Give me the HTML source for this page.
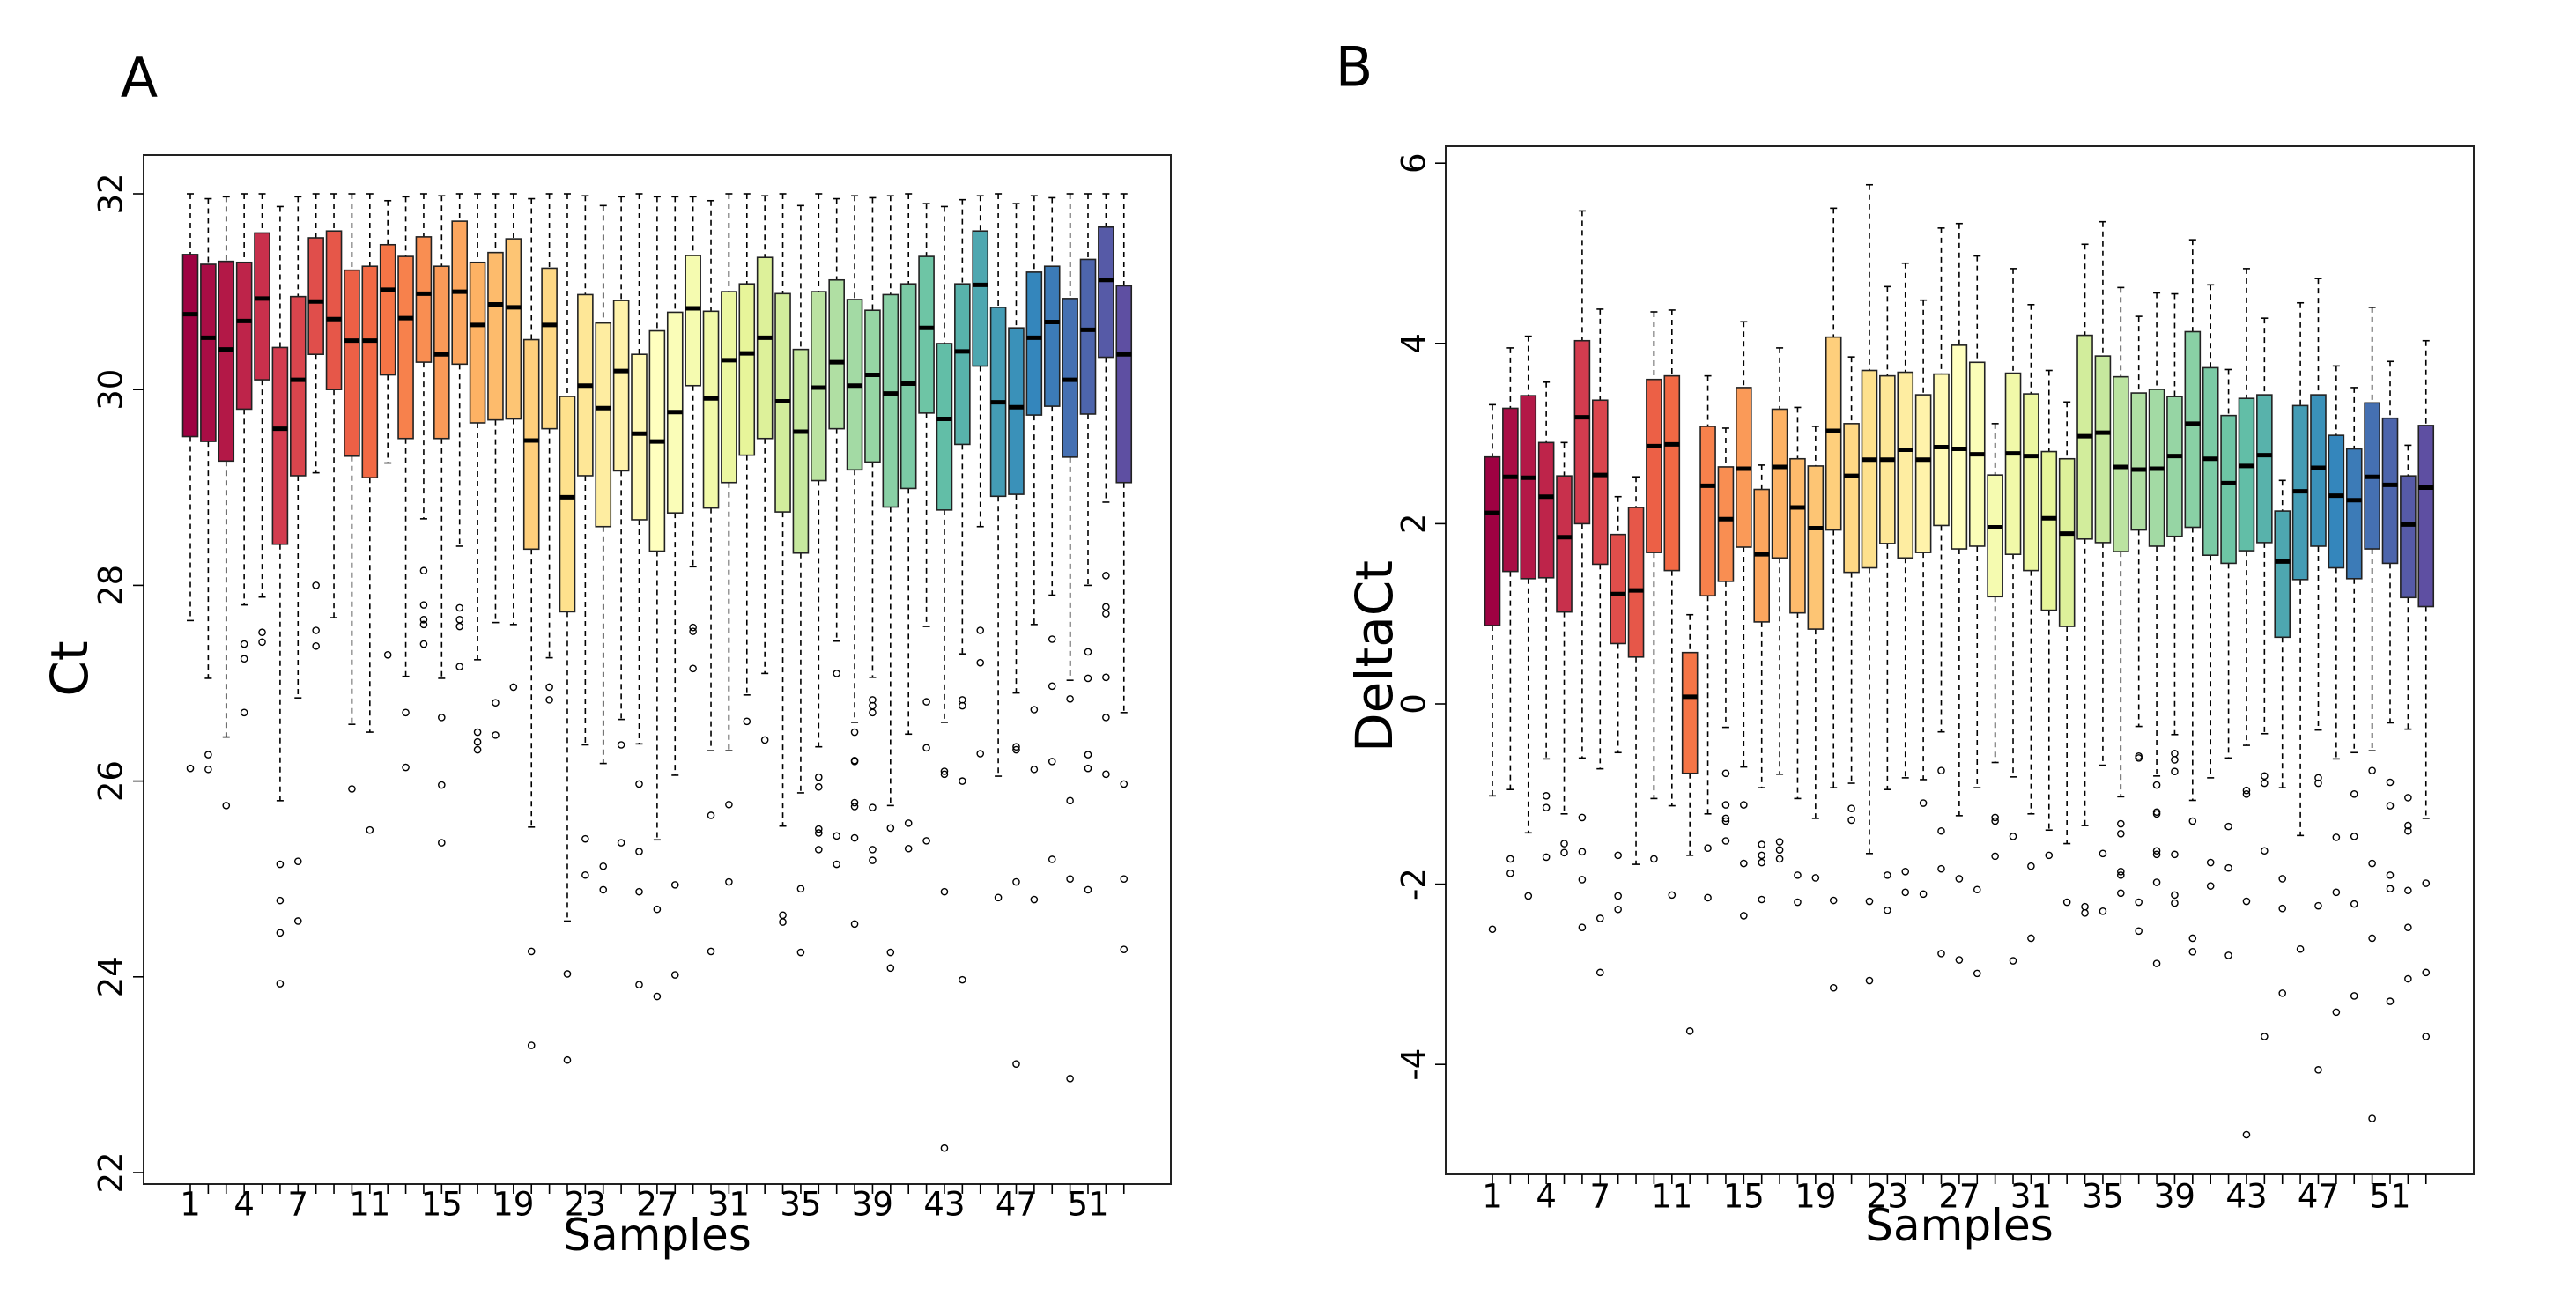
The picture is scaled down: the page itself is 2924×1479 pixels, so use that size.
<!DOCTYPE html>
<html><head><meta charset="utf-8"><style>
html,body{margin:0;padding:0;background:#fff;}
svg{display:block;font-family:"DejaVu Sans","Liberation Sans",sans-serif;}
</style></head><body>
<svg id="chart" width="2924" height="1479" viewBox="0 0 2924 1479" xmlns="http://www.w3.org/2000/svg"></svg>
<script>
// Panel A (Ct): [lowerWhisker, q1, median, q3, upperWhisker]
const ctStats = [
[27.64,29.52,30.77,31.38,32],[27.05,29.47,30.53,31.28,31.95],[26.45,29.27,30.41,31.31,31.97],[27.8,29.8,30.7,31.3,32],
[27.88,30.1,30.93,31.6,32],[25.8,28.42,29.6,30.43,31.87],[26.85,29.12,30.1,30.95,31.97],[29.15,30.36,30.9,31.55,32],
[27.67,30.0,30.72,31.62,32],[26.58,29.32,30.5,31.22,32],[26.5,29.1,30.5,31.26,32],[29.25,30.15,31.02,31.48,31.93],
[27.07,29.5,30.73,31.36,31.97],[28.68,30.28,30.98,31.56,32],[27.05,29.5,30.36,31.26,31.98],[28.4,30.26,31.0,31.72,32],
[27.24,29.66,30.66,31.3,32],[27.62,29.69,30.87,31.4,32],[27.6,29.7,30.84,31.54,32],[25.53,28.37,29.48,30.51,31.95],
[27.26,29.6,30.66,31.24,32],[24.57,27.73,28.9,29.93,32],[26.37,29.12,30.04,30.97,31.98],[26.18,28.6,29.81,30.68,31.88],
[26.63,29.17,30.19,30.91,31.97],[26.38,28.67,29.55,30.36,32],[25.4,28.35,29.47,30.6,31.97],[26.06,28.74,29.77,30.79,31.97],
[28.19,30.04,30.83,31.37,31.97],[26.31,28.79,29.91,30.8,31.93],[26.31,29.05,30.3,31.0,32],[26.88,29.33,30.37,31.08,32],
[27.1,29.5,30.53,31.35,31.98],[25.54,28.75,29.88,30.98,32],[25.88,28.33,29.57,30.41,31.88],[26.35,29.07,30.02,31.0,32],
[27.43,29.6,30.28,31.12,31.95],[26.6,29.18,30.04,30.92,31.98],[27.06,29.26,30.15,30.81,31.96],[25.75,28.8,29.96,30.97,31.98],
[26.48,28.99,30.06,31.08,32],[27.58,29.76,30.63,31.36,31.9],[26.6,28.77,29.7,30.47,31.87],[27.3,29.44,30.39,31.08,31.94],
[28.6,30.24,31.07,31.62,31.98],[26.05,28.91,29.87,30.84,32],[26.9,28.93,29.82,30.63,31.9],[27.6,29.74,30.53,31.2,31.98],
[27.9,29.83,30.69,31.26,31.96],[27.03,29.31,30.1,30.93,32],[28.0,29.75,30.61,31.33,32],[28.85,30.33,31.12,31.66,32],
[26.7,29.05,30.36,31.06,32]];
const ctOutliers = [
[26.13],[26.27,26.12],[25.75],[27.4,27.25,26.7],[27.52,27.42],[25.15,24.78,24.45,23.93],[25.18,24.57],[28.0,27.54,27.38],
[],[25.92],[25.5],[27.29],[26.7,26.14],[28.15,27.8,27.65,27.6,27.4],[26.65,25.96,25.37],[27.77,27.65,27.58,27.17],
[26.5,26.4,26.32],[26.8,26.47],[26.96],[24.26,23.3],[26.96,26.83],[24.03,23.15],[25.41,25.04],[25.13,24.89],
[26.37,25.37],[25.97,25.28,24.87,23.92],[24.69,23.8],[24.94,24.02],[27.57,27.53,27.15],[25.65,24.26],[25.76,24.97],[26.61],
[26.42],[24.63,24.56],[24.9,24.25],[26.04,25.94,25.51,25.47,25.3],[27.1,25.44,25.15],[26.5,26.21,26.2,25.78,25.74,25.42,24.54],
[26.83,26.77,26.7,25.73,25.3,25.19],[25.52,24.25,24.09],[25.57,25.31],[26.81,26.34,25.39],[26.1,26.07,24.87,22.25],
[26.83,26.77,26.0,23.97],[27.54,27.21,26.28],[24.81],[26.35,26.32,24.97,23.11],[26.73,26.12,24.79],[27.45,26.97,26.2,25.2],
[26.84,25.8,25.0,22.96],[27.32,27.05,26.27,26.13,24.89],[28.1,27.78,27.71,27.06,26.65,26.07],[25.97,25.0,24.28]];
// Panel B (DeltaCt)
const dctStats = [
[-1.02,0.87,2.12,2.74,3.32],[-0.95,1.47,2.52,3.28,3.95],[-1.43,1.39,2.51,3.42,4.08],[-0.61,1.4,2.3,2.9,3.57],
[-1.22,1.02,1.85,2.53,2.9],[-0.6,2.0,3.18,4.03,5.47],[-0.72,1.55,2.54,3.37,4.38],[-0.54,0.67,1.22,1.88,2.3],
[-1.78,0.52,1.26,2.18,2.52],[-1.05,1.68,2.86,3.6,4.35],[-1.13,1.48,2.88,3.64,4.37],[-1.68,-0.77,0.08,0.57,0.99],
[-1.22,1.2,2.42,3.08,3.64],[-0.26,1.36,2.05,2.63,3.06],[-0.7,1.74,2.61,3.51,4.24],[-0.93,0.91,1.66,2.38,2.65],
[-0.78,1.62,2.63,3.27,3.95],[-1.05,1.01,2.18,2.72,3.29],[-1.27,0.83,1.95,2.64,3.08],[-0.93,1.93,3.03,4.07,5.5],
[-0.88,1.46,2.53,3.11,3.85],[-1.66,1.51,2.71,3.7,5.76],[-0.95,1.78,2.71,3.64,4.63],[-0.82,1.62,2.82,3.68,4.89],
[-0.84,1.68,2.71,3.43,4.48],[-0.31,1.98,2.85,3.66,5.28],[-1.24,1.72,2.83,3.98,5.33],[-0.93,1.75,2.77,3.79,4.97],
[-0.65,1.19,1.96,2.54,3.11],[-0.81,1.66,2.78,3.67,4.83],[-1.22,1.48,2.75,3.44,4.43],[-1.4,1.04,2.06,2.8,3.7],
[-1.55,0.86,1.89,2.72,3.35],[-1.35,1.83,2.97,4.09,5.1],[-0.68,1.79,3.01,3.86,5.35],[-1.03,1.69,2.63,3.63,4.62],
[-0.25,1.93,2.6,3.45,4.3],[-0.8,1.75,2.61,3.49,4.56],[-0.34,1.86,2.75,3.41,4.55],[-1.07,1.96,3.11,4.13,5.15],
[-0.82,1.65,2.72,3.73,4.65],[-0.6,1.56,2.45,3.2,3.71],[-0.46,1.7,2.64,3.39,4.83],[-0.33,1.79,2.76,3.43,4.28],
[-0.93,0.74,1.58,2.14,2.48],[-1.46,1.38,2.36,3.31,4.45],[-0.29,1.75,2.62,3.43,4.72],[-0.61,1.51,2.31,2.98,3.75],
[-0.54,1.39,2.26,2.83,3.51],[-0.52,1.72,2.52,3.34,4.4],[-0.21,1.56,2.43,3.17,3.8],[-0.28,1.18,1.99,2.53,2.87],
[-1.27,1.08,2.4,3.09,4.03]];
const dctOutliers = [
[-2.5],[-1.72,-1.88],[-2.13],[-1.02,-1.15,-1.7],[-1.55,-1.65],[-1.26,-1.64,-1.95,-2.48],[-2.38,-2.98],[-1.68,-2.13,-2.28],
[],[-1.72],[-2.12],[-3.63],[-1.6,-2.15],[-0.77,-1.12,-1.27,-1.3,-1.52],[-1.12,-1.77,-2.35],[-1.56,-1.68,-1.76,-2.17],
[-1.53,-1.62,-1.72],[-1.9,-2.2],[-1.93],[-2.18,-3.15],[-1.16,-1.29],[-2.19,-3.07],[-1.9,-2.29],[-1.86,-2.09],
[-1.1,-2.11],[-0.74,-1.41,-1.83,-2.77],[-1.94,-2.84],[-2.06,-2.99],[-1.26,-1.3,-1.69],[-1.47,-2.85],[-1.8,-2.6],[-1.68],
[-2.2],[-2.25,-2.32],[-1.66,-2.3],[-1.33,-1.44,-1.86,-1.9,-2.1],[-0.58,-0.6,-2.2,-2.52],[-0.9,-1.2,-1.22,-1.63,-1.67,-1.98,-2.88],
[-0.55,-0.62,-0.75,-1.67,-2.12,-2.21],[-1.3,-2.6,-2.75],[-1.76,-2.02],[-1.36,-1.82,-2.79],[-0.96,-1.0,-2.19,-4.78],
[-0.8,-0.88,-1.63,-3.69],[-1.94,-2.27,-3.21],[-2.72],[-0.82,-0.88,-2.24,-4.06],[-1.48,-2.09,-3.42],[-1.0,-1.47,-2.22,-3.24],
[-0.74,-1.77,-2.6,-4.6],[-0.87,-1.13,-1.9,-2.05,-3.3],[-1.04,-1.35,-1.41,-2.07,-2.48,-3.05],[-1.99,-2.98,-3.69]];
const xTickLabels = [1,4,7,11,15,19,23,27,31,35,39,43,47,51];
const ctYTicks = [22,24,26,28,30,32];
const dctYTicks = [-4,-2,0,2,4,6];

const NS="http://www.w3.org/2000/svg";
const svg=document.getElementById('chart');
function mk(tag,attrs,parent){const e=document.createElementNS(NS,tag);for(const k in attrs)e.setAttribute(k,attrs[k]);(parent||svg).appendChild(e);return e;}
const spectral=["#9E0142","#D53E4F","#F46D43","#FDAE61","#FEE08B","#FFFFBF","#E6F598","#ABDDA4","#66C2A5","#3288BD","#5E4FA2"];
function hex(c){return [1,3,5].map(i=>parseInt(c.substr(i,2),16));}
function color(i,n){const t=i/(n-1)*(spectral.length-1);const a=Math.floor(Math.min(t,spectral.length-2));const f=t-a;const c1=hex(spectral[a]),c2=hex(spectral[a+1]);return 'rgb('+c1.map((v,k)=>Math.round(v+(c2[k]-v)*f)).join(',')+')';}

function panel(cfg){
  const g=mk('g',{});
  
  
  const y=v=>cfg.y0-(v-cfg.v0)*cfg.k;
  const x=i=>cfg.x1+i*cfg.dx;
  const fr=mk('rect',{x:cfg.L,y:cfg.T,width:cfg.R-cfg.L,height:cfg.B-cfg.T,fill:'none',stroke:'#222','stroke-width':2},g);
  
  
  const n=cfg.stats.length;
  cfg.stats.forEach((s,i)=>{
    const bg=mk('g',{},g);
    
    
    const cx=x(i),hw=8.5,cw=4;
    mk('line',{x1:cx,x2:cx,y1:y(s[4]),y2:y(s[3]),stroke:'#000','stroke-width':1.6,'stroke-dasharray':'6,5'},bg);
    mk('line',{x1:cx,x2:cx,y1:y(s[1]),y2:y(s[0]),stroke:'#000','stroke-width':1.6,'stroke-dasharray':'6,5'},bg);
    mk('line',{x1:cx-cw,x2:cx+cw,y1:y(s[4]),y2:y(s[4]),stroke:'#000','stroke-width':1.6},bg);
    mk('line',{x1:cx-cw,x2:cx+cw,y1:y(s[0]),y2:y(s[0]),stroke:'#000','stroke-width':1.6},bg);
    mk('rect',{x:cx-hw,y:y(s[3]),width:2*hw,height:y(s[1])-y(s[3]),fill:color(i,n),stroke:'#222','stroke-width':1.6},bg);
    mk('line',{x1:cx-hw,x2:cx+hw,y1:y(s[2]),y2:y(s[2]),stroke:'#000','stroke-width':5},bg);
    cfg.out[i].forEach(o=>{
      const c=mk('circle',{cx:cx,cy:y(o),r:3.6,fill:'none',stroke:'#000','stroke-width':1.4},bg);
      
      
    });
    mk('line',{x1:cx,x2:cx,y1:cfg.B,y2:cfg.B+11,stroke:'#000','stroke-width':1.6},g);
  });
  xTickLabels.forEach(l=>{
    const t=mk('text',{x:x(l-1),y:cfg.xtY,'font-size':37,'text-anchor':'middle','dominant-baseline':'central',fill:'#000'},g);
    t.textContent=l;
    
    
  });
  cfg.yticks.forEach(v=>{
    mk('line',{x1:cfg.L,x2:cfg.L-12,y1:y(v),y2:y(v),stroke:'#000','stroke-width':1.6},g);
    const t=mk('text',{x:cfg.ytX,y:y(v),'font-size':37,'text-anchor':'middle','dominant-baseline':'central',fill:'#000',transform:'rotate(-90 '+cfg.ytX+' '+y(v)+')'},g);
    t.textContent=v;
    
    
  });
  const xt=mk('text',{x:cfg.xlX,y:cfg.xlY,'font-size':50,'text-anchor':'middle','dominant-baseline':'central',fill:'#000'},g);
  xt.textContent='Samples';
  
  
  const yt=mk('text',{x:cfg.ylX,y:cfg.ylY,'font-size':58,'text-anchor':'middle','dominant-baseline':'central',fill:'#000',transform:'rotate(-90 '+cfg.ylX+' '+cfg.ylY+')'},g);
  yt.textContent=cfg.ylab;
  
  
  const pl=mk('text',{x:cfg.pX,y:cfg.pY,'font-size':62,'text-anchor':'middle','dominant-baseline':'central',fill:'#000'},g);
  pl.textContent=cfg.panel;
  
  
}
panel({name:'panel-a-ct',stats:ctStats,out:ctOutliers,yticks:ctYTicks,L:163,R:1329,T:176,B:1344,y0:1331,v0:22,k:111.1,x1:216,dx:20.38,xtY:1367,ytX:126,xlX:746,xlY:1402,ylX:79,ylY:759,ylab:'Ct',pX:158,pY:88,panel:'A'});
panel({name:'panel-b-deltact',stats:dctStats,out:dctOutliers,yticks:dctYTicks,L:1641,R:2808,T:166,B:1333,y0:799,v0:0,k:102.3,x1:1694,dx:20.38,xtY:1358,ytX:1605,xlX:2224,xlY:1391,ylX:1560,ylY:745,ylab:'DeltaCt',pX:1537,pY:76,panel:'B'});
</script>
</body></html>
